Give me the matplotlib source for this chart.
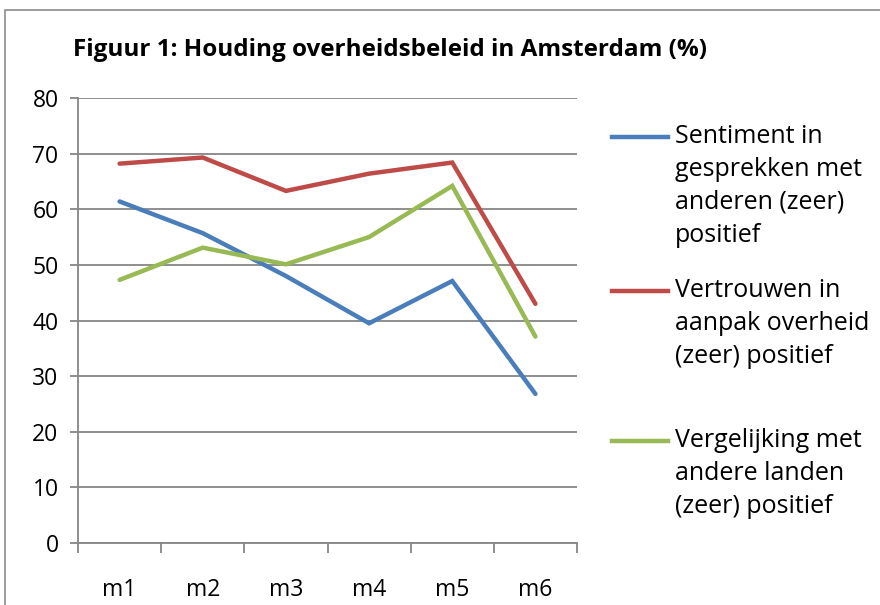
import numpy as np
import matplotlib.pyplot as plt
from matplotlib.lines import Line2D
from matplotlib.patches import Rectangle

plt.rcParams['font.family'] = ['Open Sans', 'DejaVu Sans']

# Data
months = ['m1', 'm2', 'm3', 'm4', 'm5', 'm6']
sentiment = [61.4, 55.7, 48.0, 39.5, 47.1, 26.8]
vertrouwen = [68.2, 69.3, 63.3, 66.4, 68.4, 43.0]
vergelijking = [47.3, 53.1, 50.1, 55.0, 64.2, 37.1]

labels = ['Sentiment in\ngesprekken met\nanderen (zeer)\npositief',
          'Vertrouwen in\naanpak overheid\n(zeer) positief',
          'Vergelijking met\nandere landen\n(zeer) positief']
colors = ['#4A7EBB', '#BE4B48', '#98B954']
series = [sentiment, vertrouwen, vergelijking]

GRAY = '#868686'

fig = plt.figure(figsize=(8.8, 6.05), dpi=100)
# outer chart border (cut at right and bottom like the screenshot)
fig.add_artist(Rectangle((5 / 880, -0.1), 1.2, 1 - 10 / 605 + 0.1,
                         transform=fig.transFigure, fill=False,
                         edgecolor='#8c8c8c', linewidth=1.2))

ax = fig.add_axes([78 / 880, 1 - 543 / 605, (577 - 78) / 880, (543 - 98) / 605])

x = np.arange(len(months)) + 0.5
for vals, c in zip(series, colors):
    ax.plot(x, vals, color=c, linewidth=3.2, solid_capstyle='round',
            solid_joinstyle='miter')

ax.set_xlim(0, len(months))
ax.set_ylim(0, 80)
ax.set_yticks(range(0, 81, 10))
ax.yaxis.grid(True, color=GRAY, linewidth=1.3)
ax.set_axisbelow(True)

ax.set_xticks(range(0, len(months) + 1))
ax.set_xticklabels([])
ax.set_xticks(x, minor=True)
ax.set_xticklabels(months, minor=True)
ax.tick_params(axis='x', which='major', length=7, width=1.3, color=GRAY, direction='out')
ax.tick_params(axis='x', which='minor', length=0, pad=25, labelsize=16.5)
ax.tick_params(axis='y', length=6, width=1.3, color=GRAY, pad=8, labelsize=16.5)

for s in ['top', 'right']:
    ax.spines[s].set_visible(False)
for s in ['left', 'bottom']:
    ax.spines[s].set_color(GRAY)
    ax.spines[s].set_linewidth(1.3)

fig.text(73 / 880, 1 - 50 / 605, 'Figuur 1: Houding overheidsbeleid in Amsterdam (%)',
         fontsize=17.5, fontweight='bold', va='center', ha='left')

# legend drawn by hand to keep the spacing of the original
legend_y = [137, 291, 441]
for lab, c, yy in zip(labels, colors, legend_y):
    yf = 1 - yy / 605
    fig.add_artist(Line2D([612 / 880, 668 / 880], [yf, yf], color=c,
                          linewidth=3.2, transform=fig.transFigure))
    fig.text(675 / 880, 1 - (yy - 13) / 605, lab, fontsize=18, va='top',
             ha='left', linespacing=1.42)

fig.savefig('out.png', dpi=100)
